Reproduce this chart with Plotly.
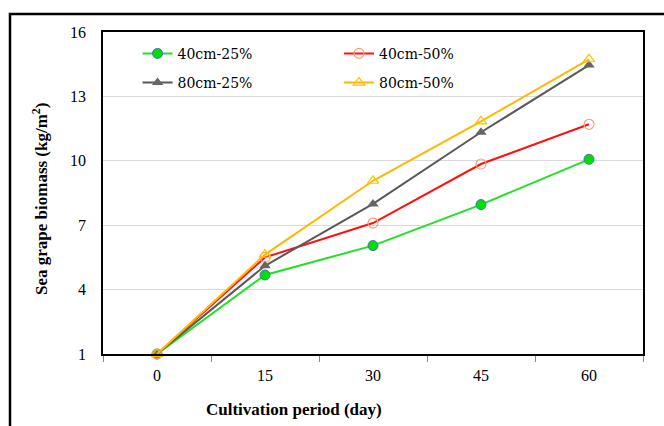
import plotly.graph_objects as go

days = ["0", "15", "30", "45", "60"]
s_40_25 = [1.0, 4.68, 6.05, 7.96, 10.07]
s_40_50 = [1.0, 5.50, 7.10, 9.85, 11.70]
s_80_25 = [1.0, 5.11, 7.99, 11.33, 14.46]
s_80_50 = [1.0, 5.63, 9.07, 11.84, 14.73]
y_ticks = [1, 4, 7, 10, 13, 16]

FONT = "Times New Roman, Liberation Serif, serif"
LEG_FONT = "DejaVu Serif"

fig = go.Figure()
fig.add_trace(go.Scatter(x=days, y=s_40_25, name="40cm-25%", mode="lines+markers",
                         line=dict(color="#22E022", width=2),
                         marker=dict(symbol="circle", size=10, color="#00E000",
                                     line=dict(color="#4472C4", width=1)),
                         cliponaxis=False, legend="legend", legendgroup="a"))
fig.add_trace(go.Scatter(x=days, y=s_40_50, name="40cm-50%", mode="lines+markers",
                         line=dict(color="#FF1010", width=2),
                         marker=dict(symbol="circle-open", size=10, color="#F4A07A",
                                     line=dict(width=1.2)),
                         cliponaxis=False, legend="legend2", legendgroup="b"))
fig.add_trace(go.Scatter(x=days, y=s_80_25, name="80cm-25%", mode="lines+markers",
                         line=dict(color="#595959", width=2),
                         marker=dict(symbol="triangle-up", size=10, color="#666666"),
                         cliponaxis=False, legend="legend", legendgroup="c"))
fig.add_trace(go.Scatter(x=days, y=s_80_50, name="80cm-50%", mode="lines+markers",
                         line=dict(color="#FFB800", width=2),
                         marker=dict(symbol="triangle-up-open", size=10, color="#FFC000",
                                     line=dict(width=1.2)),
                         cliponaxis=False, legend="legend2", legendgroup="d"))

fig.update_layout(
    template="none",
    width=664, height=426,
    margin=dict(l=103, r=21, t=32, b=72),
    paper_bgcolor="white", plot_bgcolor="white",
    font=dict(family=FONT, size=16, color="#000000"),
    showlegend=True,
    legend=dict(x=0.064, y=0.982, xanchor="left", yanchor="top",
                font=dict(family=LEG_FONT, size=14, color="#000000"),
                bgcolor="rgba(0,0,0,0)", traceorder="grouped", tracegroupgap=8),
    legend2=dict(x=0.437, y=0.982, xanchor="left", yanchor="top",
                 font=dict(family=LEG_FONT, size=14, color="#000000"),
                 bgcolor="rgba(0,0,0,0)", traceorder="grouped", tracegroupgap=8),
)
fig.update_xaxes(type="category", range=[-0.5, 4.5], tickson="boundaries",
                 ticks="outside", ticklen=6, tickcolor="#888888", tickwidth=1,
                 showgrid=False, showline=True, linecolor="#000000", linewidth=1.5,
                 mirror=True, ticklabelstandoff=6, zeroline=False,
                 tickfont=dict(family=FONT, size=16))
fig.update_yaxes(range=[1, 16], tickvals=y_ticks, showgrid=True, gridcolor="#D9D9D9",
                 gridwidth=1.2, zeroline=False, showline=True, linecolor="#000000",
                 linewidth=1.5, mirror=True, ticks="", ticklabelstandoff=12,
                 tickfont=dict(family=FONT, size=16))

fig.add_annotation(text="<b>Cultivation period (day)</b>", xref="paper", yref="paper",
                   x=(294 - 103) / 540, y=-(410 - 354) / 322, xanchor="center",
                   yanchor="middle", showarrow=False, font=dict(family=FONT, size=17))
fig.add_annotation(text="<b>Sea grape biomass (kg/m<sup>2</sup>)</b>", xref="paper",
                   yref="paper", x=(40 - 103) / 540, y=(354 - 199) / 322,
                   xanchor="center", yanchor="middle", textangle=-90, showarrow=False,
                   font=dict(family=FONT, size=17))

fig.add_shape(type="rect", xref="paper", yref="paper",
              x0=(10 - 103) / 540, x1=(680 - 103) / 540,
              y0=-(440 - 354) / 322, y1=1 + (32 - 14) / 322,
              line=dict(color="#000000", width=2.5), fillcolor="rgba(0,0,0,0)",
              layer="below")

fig.write_html("out.html", config={"displayModeBar": False},
               post_script="document.body.style.margin='0px';")
